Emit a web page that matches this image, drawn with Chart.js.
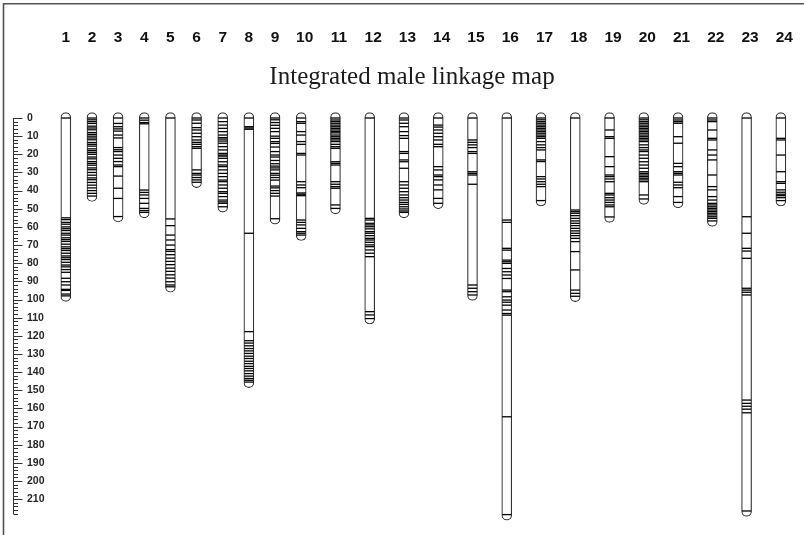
<!DOCTYPE html>
<html>
<head>
<meta charset="utf-8">
<script src="https://cdn.jsdelivr.net/npm/chart.js@4/dist/chart.umd.min.js"></script>
<style>
  html, body { margin: 0; padding: 0; background: #fff; }
  #wrap { position: relative; width: 804px; height: 535px; }
</style>
</head>
<body>
<div id="wrap"><canvas id="map"></canvas></div>
<script>
// Linkage groups and their marker positions (cM)
const groupNames = ['1','2','3','4','5','6','7','8','9','10','11','12','13','14','15','16','17','18','19','20','21','22','23','24'];

const lg1  = [0, 55, 56, 57.5, 58.5, 60, 61, 62, 63.5, 64.5, 66, 67, 68, 69.5, 71, 72, 73, 74.5, 76, 77, 78, 79.5, 81, 82, 83.5, 85, 88.3, 90.2, 92, 94.4, 95, 97, 98];
const lg2  = [0, 1, 2, 3, 4.5, 5.5, 6.5, 8, 9, 10, 11, 12, 13.5, 14.5, 15.5, 17, 18, 19, 20, 21.5, 22.5, 24, 25, 26, 27.5, 28.5, 30, 31.5, 33, 34, 35.5, 37, 38.5, 40, 41.5, 43];
const lg3  = [0, 3, 4.8, 6, 7.2, 9.4, 11, 16.3, 17.5, 18.5, 20.4, 22.2, 24, 25.9, 26.8, 32, 38.7, 44.3, 54.3];
const lg4  = [0, 1.2, 2.5, 3.2, 39.7, 41, 42.4, 44.3, 47, 49.8, 51, 52];
const lg5  = [0, 55.6, 59.3, 64.5, 67.2, 70, 72.5, 73.5, 75.3, 77.2, 79, 80.8, 82.7, 84.5, 86.4, 88.2, 90.2, 92, 93];
const lg6  = [0, 1.1, 2.9, 5.3, 6.6, 8.4, 10.3, 12.1, 13.4, 14.5, 15.8, 16.7, 28.6, 30.5, 31.4, 32.8, 34.1, 35.4];
const lg7  = [0, 2, 3.9, 5.7, 7.5, 9.4, 10.8, 11.6, 12.7, 13.9, 15.8, 17.6, 19.5, 20.4, 21, 22.2, 24.1, 25.9, 26.8, 28.6, 30.5, 32.3, 34.2, 35.1, 36.9, 38.7, 40.6, 41.5, 43.3, 45.2, 46.2, 47, 48.9];
const lg8  = [0, 4.8, 5.5, 6.2, 63.5, 117.7, 122.7, 124, 125.5, 127, 128.3, 129.7, 131.2, 132.5, 134, 135.3, 136.8, 138, 139.3, 140.8, 142.2, 143.5, 144.5, 145.5];
const lg9  = [0, 1, 2.5, 4, 5.7, 7.5, 10, 11.2, 13, 14, 16, 18.5, 20.4, 21.5, 23.4, 25.2, 26.5, 27.5, 28.6, 30.5, 31.5, 32.8, 34.2, 37.5, 38.5, 40, 41.5, 43, 55.5];
const lg10 = [0, 2, 2.9, 7.5, 9.4, 13, 14.5, 19.5, 20.4, 35.1, 36.9, 38.4, 41.3, 42, 42.8, 56.2, 57.5, 58.9, 60.8, 62.6, 63.5, 64.5];
const lg11 = [0, 1.1, 2, 2.9, 3.9, 4.8, 5.7, 6.6, 7.5, 8.2, 9.4, 10.3, 11.2, 12.1, 13, 14.5, 15.8, 16.7, 24.1, 25, 25.9, 35.1, 36.5, 37.8, 38.7, 47.9, 49.8];
const lg12 = [0, 55.3, 56.2, 58, 58.9, 59.9, 61.1, 62.6, 63.5, 64.8, 66.3, 67.2, 68.5, 69.9, 70.9, 72.7, 74.5, 76.4, 106.7, 108.5, 110.5];
const lg13 = [0, 1.1, 2.9, 4.8, 7.5, 9.7, 11.2, 18.5, 19.5, 23.1, 24.1, 27.7, 35.1, 36.9, 38.7, 40.6, 42.4, 43.9, 45.2, 46.5, 47.6, 48.9, 50.1, 51.2, 52];
const lg14 = [0, 3.9, 5, 6.6, 8.4, 10.3, 12.1, 14.5, 15.8, 26.8, 28.6, 31.4, 32.3, 34.1, 36.9, 39.6, 44.3, 47];
const lg15 = [0, 12.1, 13.4, 14.8, 16.3, 18.5, 19.5, 29.6, 30.5, 31.4, 36.5, 92, 93.8, 95.7, 97.5];
const lg16 = [0, 56.2, 57.5, 71.8, 72.8, 78.3, 79.2, 80.1, 82.9, 84.7, 86.5, 88.4, 94.8, 95.7, 98.5, 100.3, 101.5, 103.1, 105.8, 107.7, 108.6, 164.6, 218.5];
const lg17 = [0, 1, 2, 2.9, 3.9, 4.8, 5.7, 6.6, 7.5, 8.4, 9.4, 10.3, 11.2, 13, 14.8, 16.3, 17.6, 23.1, 24, 32.3, 33.6, 35.1, 36.5, 37.8, 45.5];
const lg18 = [0, 50.7, 51.6, 52.5, 53.8, 55.3, 56.7, 58, 59.3, 60.8, 62.2, 63.5, 64.8, 66.3, 68.1, 73.6, 83.7, 94.8, 96.6, 98.2];
const lg19 = [0, 6.6, 10.3, 11.2, 21.3, 26.8, 31.4, 32.3, 33.6, 35.1, 41.5, 42.4, 43.9, 45.2, 46.5, 47.9, 48.9, 54.5];
const lg20 = [0, 1, 2, 2.9, 3.9, 4.8, 5.7, 6.6, 7.5, 8.4, 9.4, 10.3, 11.2, 12.1, 13, 14.8, 16.3, 17.6, 18.5, 20.4, 22.2, 24.1, 25.9, 27.7, 29.6, 30.5, 31.4, 32.3, 33.2, 34.1, 35.1, 42.4, 44.6];
const lg21 = [0, 1.1, 2, 2.9, 10.3, 13.9, 25, 26.8, 29.6, 30.5, 31.4, 35.4, 36.9, 38.4, 43.3, 46.5];
const lg22 = [0, 1.1, 2, 6.6, 11.2, 12.1, 17.6, 20.4, 23.1, 31.4, 37.8, 39.6, 43.3, 45.2, 47, 47.9, 48.9, 49.8, 50.7, 51.6, 52.5, 53.4, 54.4, 55.3, 56.7];
const lg23 = [0, 54.4, 63.5, 71.8, 73.3, 77.3, 93.8, 94.8, 96, 97.5, 155.4, 157.2, 158.8, 160.4, 162.4, 216.5];
const lg24 = [0, 11.2, 12.1, 20.4, 29.6, 35.1, 36, 39.6, 40.9, 42, 42.8, 43.9, 45.5];

const markerSets = [lg1, lg2, lg3, lg4, lg5, lg6, lg7, lg8, lg9, lg10, lg11, lg12,
                    lg13, lg14, lg15, lg16, lg17, lg18, lg19, lg20, lg21, lg22, lg23, lg24];

// Ruler: labelled every 10 cM, minor marks every 2 cM
const rulerLabels = [0, 10, 20, 30, 40, 50, 60, 70, 80, 90, 100, 110, 120, 130, 140, 150, 160, 170, 180, 190, 200, 210];
const rulerMinorStep = 2;
const rulerEnd = 218;

const mapTitle = 'Integrated male linkage map';

// Horizontal layout: each group takes a slot sized by its label width
const SLOT_SINGLE = 1;
const SLOT_DOUBLE = 1.31;
const groupPositions = [];
groupNames.forEach((name, i) => {
  if (i === 0) { groupPositions.push(0); return; }
  const prev = groupNames[i - 1];
  groupPositions.push(groupPositions[i - 1] + (prev.length > 1 ? SLOT_DOUBLE : SLOT_SINGLE));
});

// Rounded ends reach a little past the terminal markers
const CAP_CM = 3;

const bodyData = markerSets.map((m, i) => ({ x: groupPositions[i], y: [m[0] - CAP_CM, m[m.length - 1] + CAP_CM] }));
const markerData = markerSets.flatMap((m, i) => m.map(v => ({ x: groupPositions[i], y: v })));

const decor = {
  id: 'decor',
  beforeDraw(chart) {
    const c = chart.ctx;
    c.save();
    c.fillStyle = '#fff';
    c.fillRect(0, 0, chart.width, chart.height);
    // frame along the top and left edges
    c.strokeStyle = '#505050';
    c.lineWidth = 1.6;
    c.beginPath();
    c.moveTo(3.5, chart.height);
    c.lineTo(3.5, 3.8);
    c.lineTo(chart.width, 3.8);
    c.stroke();
    c.restore();
  },
  afterDraw(chart) {
    const c = chart.ctx;
    const xs = chart.scales.x;
    const ys = chart.scales.y;
    c.save();
    // ruler tick marks pointing right from the axis line
    const x0 = ys.right;
    c.strokeStyle = '#333';
    c.lineWidth = 1;
    c.beginPath();
    for (let v = 0; v <= rulerEnd; v += rulerMinorStep) {
      const py = Math.round(ys.getPixelForValue(v)) + 0.5;
      const len = rulerLabels.includes(v) ? 9 : 4.5;
      c.moveTo(x0, py);
      c.lineTo(x0 + len, py);
    }
    c.stroke();

    // group numbers above the map
    c.fillStyle = '#111';
    c.font = 'bold 15.5px "Liberation Sans", Arial, sans-serif';
    c.textAlign = 'center';
    c.textBaseline = 'alphabetic';
    groupNames.forEach((name, i) => {
      const px = xs.getPixelForValue(groupPositions[i]) + (name.length - 1) * 3.5;
      c.fillText(name, px, 42);
    });

    // title
    c.fillStyle = '#1c1c1c';
    c.font = '25px "Liberation Serif", "Times New Roman", serif';
    c.fillText(mapTitle, 412, 84);
    c.restore();
  }
};

new Chart(document.getElementById('map'), {
  type: 'bar',
  data: {
    datasets: [
      {
        type: 'scatter',
        label: 'markers',
        data: markerData,
        pointStyle: 'line',
        pointRadius: 4.6,
        pointHoverRadius: 4.6,
        pointBorderWidth: 1.3,
        pointBorderColor: '#000',
        pointBackgroundColor: '#000',
        order: 1,
        clip: false
      },
      {
        type: 'bar',
        label: 'groups',
        data: bodyData,
        barThickness: 10,
        backgroundColor: '#fff',
        borderColor: '#333',
        borderWidth: 1.2,
        borderRadius: 5,
        borderSkipped: false,
        order: 2,
        clip: false
      }
    ]
  },
  options: {
    responsive: true,
    maintainAspectRatio: false,
    animation: false,
    events: [],
    layout: { padding: { top: 118, bottom: 21.3, left: 0, right: 0 } },
    plugins: {
      legend: { display: false },
      tooltip: { enabled: false },
      title: { display: false }
    },
    scales: {
      x: { type: 'linear', min: -2, max: 28, offset: false, display: false },
      y: {
        type: 'linear',
        reverse: true,
        min: 0,
        max: rulerEnd,
        position: 'left',
        border: { display: true, color: '#333', width: 1 },
        grid: { display: true, drawOnChartArea: false, drawTicks: false },
        ticks: {
          mirror: true,
          padding: 13.5,
          color: '#262626',
          font: { family: '"Liberation Sans", Arial, sans-serif', size: 10.5, weight: 'bold' }
        },
        afterBuildTicks: s => { s.ticks = rulerLabels.map(v => ({ value: v })); },
        afterFit: s => { s.width = 13.5; }
      }
    }
  },
  plugins: [decor]
});
</script>
</body>
</html>
